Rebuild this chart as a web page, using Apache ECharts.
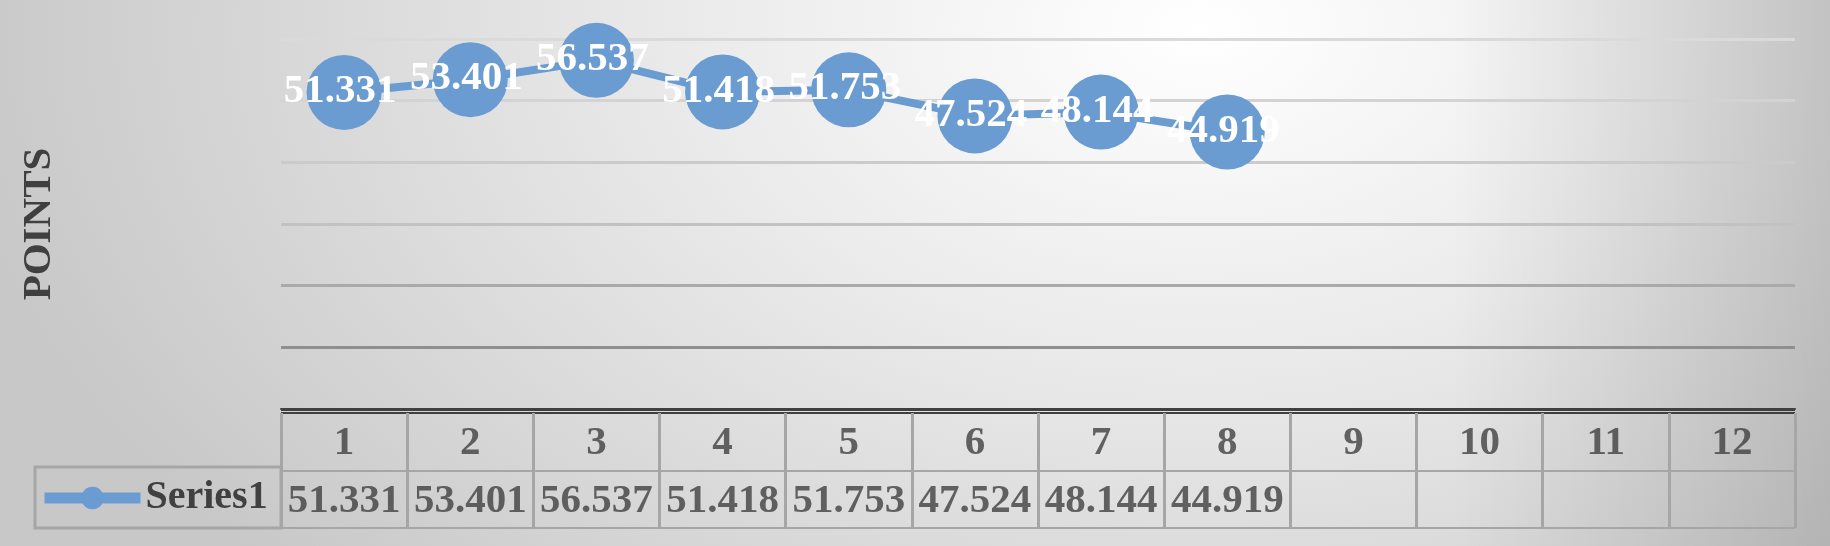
<!DOCTYPE html>
<html>
<head>
<meta charset="utf-8">
<script src="https://cdn.jsdelivr.net/npm/echarts@6/dist/echarts.min.js"></script>
<style>
html, body { margin: 0; padding: 0; }
body {
    width: 1830px; height: 546px; overflow: hidden;
    background:
        linear-gradient(to right, rgba(0,0,0,0) 1450px, rgba(0,0,0,0.15) 1830px),
        radial-gradient(ellipse 1250px 800px at 1200px 30px, #ffffff 0%, #ebebeb 40%, #c8c8c8 100%);
}
#main { width: 1830px; height: 546px; }
</style>
</head>
<body>
<div id="main"></div>
<script>
// 数据
var categories = ['1', '2', '3', '4', '5', '6', '7', '8', '9', '10', '11', '12'];
var seriesName = 'Series1';
var values = [51.331, 53.401, 56.537, 51.418, 51.753, 47.524, 48.144, 44.919];
var rowNames = ['head', 'row'];

var font = 'Liberation Serif';
var blue = '#6a9bd1';
var dark = '#404040';

// 表格里的文字：表头 + 数值行
var tableCells = [];
for (var i = 0; i < categories.length; i++) {
    tableCells.push([categories[i], 'head', categories[i]]);
}
for (var j = 0; j < values.length; j++) {
    tableCells.push([categories[j], 'row', values[j]]);
}

var chartDom = document.getElementById('main');
var myChart = echarts.init(chartDom);
var option;
option = {
    backgroundColor: 'transparent',
    animation: false,
    legend: {
        data: [seriesName],
        left: 34,
        top: 473,
        itemWidth: 96,
        itemHeight: 28,
        itemGap: 5,
        lineStyle: { width: 11 },
        textStyle: { fontFamily: font, fontSize: 40, fontWeight: 'bold', color: dark }
    },
    graphic: [
        {
            // 图例单元格边框
            type: 'rect',
            shape: { x: 35, y: 467, width: 246, height: 61 },
            style: { fill: 'none', stroke: '#a6a6a6', lineWidth: 3 }
        }
    ],
    grid: [
        { left: 281, right: 35, top: 39, bottom: 137 },
        { left: 281, right: 35, top: 413, bottom: 18 }
    ],
    xAxis: [
        {
            type: 'category',
            gridIndex: 0,
            data: categories,
            boundaryGap: true,
            axisLine: { show: true, lineStyle: { color: dark, width: 2 } },
            axisTick: { show: false },
            axisLabel: { show: false },
            splitLine: { show: false }
        },
        {
            type: 'category',
            gridIndex: 1,
            data: categories,
            boundaryGap: true,
            axisLine: { show: false },
            axisTick: { show: false },
            axisLabel: { show: false },
            splitLine: { show: true, interval: 0, lineStyle: { color: '#a6a6a6', width: 3 } }
        }
    ],
    yAxis: [
        {
            type: 'value',
            gridIndex: 0,
            min: 0,
            max: 60,
            interval: 10,
            name: 'POINTS',
            nameLocation: 'middle',
            nameGap: 221,
            nameTextStyle: { fontFamily: font, fontSize: 41, fontWeight: 'bold', color: dark },
            axisLine: { show: false },
            axisTick: { show: false },
            axisLabel: { show: false },
            splitLine: {
                show: true,
                lineStyle: {
                    width: 3,
                    color: ['#404040', '#8f8f8f', '#aaaaaa', '#c2c2c2', '#cbcbcb', '#d3d3d3', '#dadada']
                }
            }
        },
        {
            type: 'category',
            gridIndex: 1,
            data: rowNames,
            inverse: true,
            axisLine: { show: false },
            axisTick: { show: false },
            axisLabel: { show: false },
            splitLine: {
                show: true,
                interval: 0,
                lineStyle: { width: 2, color: [dark, '#a6a6a6', '#a6a6a6'] }
            }
        }
    ],
    series: [
        {
            name: seriesName,
            type: 'line',
            xAxisIndex: 0,
            yAxisIndex: 0,
            data: values,
            symbol: 'circle',
            symbolSize: 75,
            lineStyle: { color: blue, width: 8 },
            itemStyle: { color: blue },
            label: {
                show: true,
                position: 'inside',
                offset: [-4, -1],
                formatter: '{c}',
                color: '#ffffff',
                fontFamily: font,
                fontSize: 41,
                fontWeight: 'bold'
            },
            z: 3
        },
        {
            name: 'table',
            type: 'scatter',
            xAxisIndex: 1,
            yAxisIndex: 1,
            data: tableCells,
            symbolSize: 1,
            itemStyle: { color: 'rgba(0,0,0,0)' },
            label: {
                show: true,
                position: 'inside',
                offset: [0, 2],
                formatter: function (p) { return p.value[2]; },
                color: dark,
                fontFamily: font,
                fontSize: 41,
                fontWeight: 'bold'
            },
            silent: true
        }
    ]
};
option && myChart.setOption(option);
</script>
</body>
</html>
